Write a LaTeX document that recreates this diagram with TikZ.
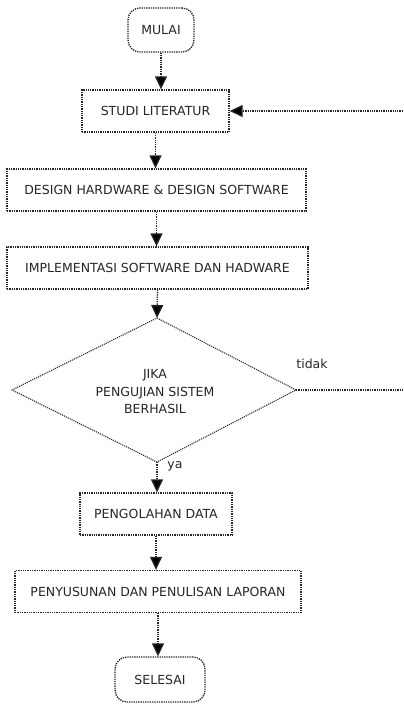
\documentclass[tikz,border=0pt]{standalone}
\usepackage{fontspec}
\setmainfont{DejaVu Sans}
\usetikzlibrary{arrows.meta,shapes.geometric}
\tikzset{
  dotline/.style={densely dotted, line width=1.3pt, black!85},
  flow/.style={dotline, -{Triangle[length=13pt,width=12pt,fill=black]}},
  procbox/.style={draw, dotline, rectangle, minimum height=42pt, text=black!85, font=\fontsize{12.5}{15}\selectfont, inner sep=0pt},
  termbox/.style={draw, dotline, rounded corners=12pt, minimum height=44pt, text=black!85, font=\fontsize{12.5}{15}\selectfont},
  lbl/.style={text=black!85, font=\fontsize{12.5}{15}\selectfont}
}
\begin{document}
\begin{tikzpicture}[x=1pt,y=-1pt]
\useasboundingbox (0,0) rectangle (404,704);
\node[termbox, minimum width=66pt] (mulai) at (161,30) {MULAI};
\node[procbox, minimum width=147pt] (studi) at (155.5,111) {STUDI LITERATUR};
\node[procbox, minimum width=299pt] (design) at (156.5,190) {DESIGN HARDWARE \& DESIGN SOFTWARE};
\node[procbox, minimum width=301pt] (impl) at (157.5,268) {IMPLEMENTASI SOFTWARE DAN HADWARE};
\path (157,318) coordinate (dtop) (12,390) coordinate (dleft) (296,390) coordinate (dright) (157,462) coordinate (dbot);
\draw[line width=1.1pt, black!85, densely dotted] (dtop) -- (dright) -- (dbot) -- (dleft) -- cycle;
\node[lbl, align=center, font=\fontsize{12.5}{17.5}\selectfont] (dec) at (155,392) {JIKA\\PENGUJIAN SISTEM\\BERHASIL};
\node[lbl] (tidak) at (312,364) {tidak};
\node[lbl] (ya) at (175,466) {ya};
\node[procbox, minimum width=152pt] (olah) at (156,514) {PENGOLAHAN DATA};
\node[procbox, minimum width=286pt] (susun) at (158,591.5) {PENYUSUNAN DAN PENULISAN LAPORAN};
\node[termbox, minimum width=90pt, minimum height=45pt] (selesai) at (160,679.5) {SELESAI};
\coordinate (r1) at (403,111);
\coordinate (r2) at (403,390);
\draw[flow] (mulai.south) -- (mulai.south |- studi.north);
\draw[flow] (studi.south) -- (studi.south |- design.north);
\draw[flow] (design.south) -- (design.south |- impl.north);
\draw[flow] (impl.south) -- (dtop);
\draw[dotline] (dright) -- (r2);
\draw[flow] (r1) -- (studi.east);
\draw[flow] (dbot) -- (dbot |- olah.north);
\draw[flow] (olah.south) -- (olah.south |- susun.north);
\draw[flow] (susun.south) -- (susun.south |- selesai.north);
\end{tikzpicture}
\end{document}
